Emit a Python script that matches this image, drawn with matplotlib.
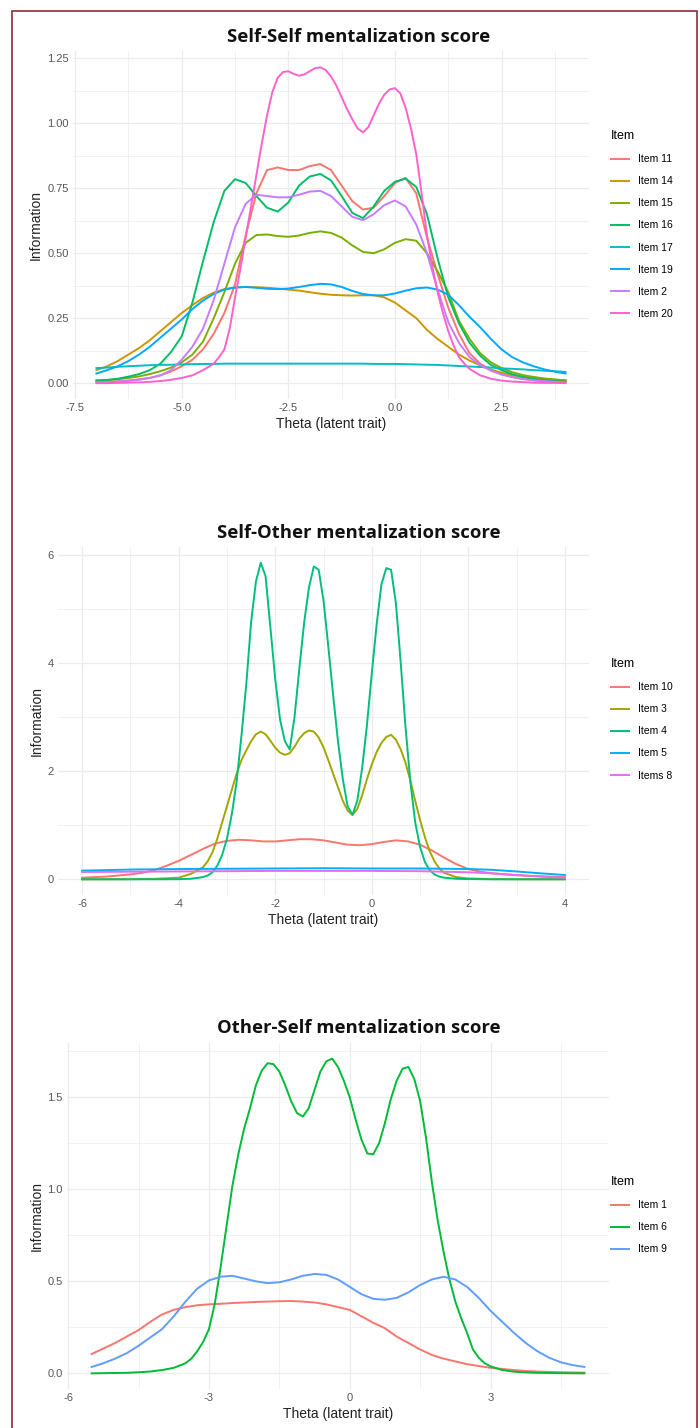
import numpy as np
import matplotlib
matplotlib.use("Agg")
import matplotlib.pyplot as plt
from matplotlib.patches import Rectangle
from matplotlib.ticker import MultipleLocator

# ---- panel 1: Self-Self ----
theta_ss = np.arange(-7, 4.001, 0.25)
# item 20 is read on a finer grid around its peaks
theta_20 = (list(np.arange(-7, -4.49, 0.25)) + list(np.arange(-4.25, 1.751, 0.125))
            + list(np.arange(2, 4.001, 0.25)))
ss_labels = ["Item 11", "Item 14", "Item 15", "Item 16", "Item 17", "Item 19", "Item 2", "Item 20"]
ss_colors = ["#F8766D", "#CD9600", "#7CAE00", "#00BE67", "#00BFC4", "#00A9FF", "#C77CFF", "#FF61CC"]
item11 = [0.003, 0.005, 0.007, 0.01, 0.015, 0.02, 0.03, 0.045, 0.065, 0.09, 0.13, 0.19, 0.27, 0.38, 0.57,
          0.73, 0.82, 0.83, 0.82, 0.82, 0.835, 0.843, 0.82, 0.76, 0.70, 0.668, 0.675, 0.72, 0.77, 0.79,
          0.73, 0.56, 0.42, 0.29, 0.19, 0.115, 0.075, 0.05, 0.035, 0.024, 0.016, 0.011, 0.008, 0.006, 0.005]
item14 = [0.05, 0.065, 0.085, 0.11, 0.135, 0.165, 0.20, 0.235, 0.27, 0.30, 0.328, 0.348, 0.362, 0.368, 0.37,
          0.369, 0.367, 0.364, 0.36, 0.356, 0.35, 0.344, 0.34, 0.338, 0.337, 0.338, 0.338, 0.33, 0.31, 0.28,
          0.25, 0.205, 0.17, 0.14, 0.11, 0.087, 0.068, 0.052, 0.04, 0.031, 0.025, 0.02, 0.016, 0.013, 0.011]
item15 = [0.01, 0.012, 0.015, 0.02, 0.026, 0.035, 0.046, 0.06, 0.08, 0.11, 0.16, 0.25, 0.35, 0.46, 0.54,
          0.57, 0.572, 0.566, 0.563, 0.568, 0.578, 0.584, 0.578, 0.56, 0.53, 0.505, 0.50, 0.515, 0.54, 0.554,
          0.548, 0.50, 0.43, 0.35, 0.24, 0.17, 0.115, 0.08, 0.058, 0.042, 0.031, 0.024, 0.018, 0.014, 0.011]
item16 = [0.01, 0.012, 0.017, 0.025, 0.035, 0.05, 0.075, 0.12, 0.18, 0.31, 0.47, 0.62, 0.74, 0.785, 0.77,
          0.72, 0.675, 0.66, 0.695, 0.76, 0.795, 0.805, 0.78, 0.72, 0.655, 0.635, 0.68, 0.74, 0.775, 0.787,
          0.755, 0.65, 0.48, 0.33, 0.23, 0.155, 0.105, 0.07, 0.05, 0.034, 0.023, 0.016, 0.011, 0.008, 0.005]
item17 = [0.058, 0.06, 0.063, 0.065, 0.067, 0.069, 0.07, 0.071, 0.072, 0.073, 0.074, 0.074, 0.075, 0.075, 0.075,
          0.075, 0.075, 0.075, 0.075, 0.075, 0.075, 0.075, 0.075, 0.075, 0.075, 0.075, 0.074, 0.074, 0.074, 0.073,
          0.072, 0.071, 0.07, 0.068, 0.066, 0.064, 0.062, 0.06, 0.057, 0.055, 0.053, 0.05, 0.048, 0.046, 0.043]
item19 = [0.037, 0.05, 0.065, 0.085, 0.11, 0.14, 0.175, 0.21, 0.245, 0.285, 0.318, 0.343, 0.36, 0.368, 0.37,
          0.367, 0.363, 0.362, 0.364, 0.37, 0.377, 0.382, 0.38, 0.37, 0.355, 0.343, 0.338, 0.338, 0.345, 0.356,
          0.365, 0.368, 0.36, 0.34, 0.30, 0.255, 0.215, 0.17, 0.13, 0.10, 0.08, 0.065, 0.053, 0.044, 0.037]
item2 = [0.003, 0.004, 0.006, 0.009, 0.013, 0.02, 0.03, 0.05, 0.09, 0.14, 0.21, 0.32, 0.46, 0.60, 0.69,
         0.725, 0.72, 0.715, 0.715, 0.725, 0.737, 0.74, 0.72, 0.68, 0.64, 0.627, 0.65, 0.685, 0.703, 0.68,
         0.61, 0.50, 0.36, 0.235, 0.155, 0.10, 0.07, 0.048, 0.033, 0.023, 0.016, 0.011, 0.008, 0.005, 0.003]
item20 = [0.0, 0.0, 0.001, 0.002, 0.003, 0.005, 0.008, 0.013, 0.02, 0.03, 0.05,
          0.075, 0.10, 0.13, 0.21, 0.33, 0.44, 0.56, 0.68, 0.80, 0.92,
          1.03, 1.12, 1.175, 1.197, 1.20, 1.19, 1.183, 1.188, 1.20, 1.212,
          1.215, 1.205, 1.18, 1.145, 1.10, 1.055, 1.015, 0.98, 0.965, 0.985,
          1.03, 1.075, 1.11, 1.13, 1.135, 1.115, 1.06, 0.98, 0.88, 0.73,
          0.57, 0.45, 0.35, 0.27, 0.20, 0.145, 0.10, 0.075, 0.055,
          0.03, 0.017, 0.01, 0.006, 0.004, 0.002, 0.001, 0.001, 0.0]
ss_series = [(theta_ss, item11), (theta_ss, item14), (theta_ss, item15), (theta_ss, item16),
             (theta_ss, item17), (theta_ss, item19), (theta_ss, item2), (theta_20, item20)]

# ---- panel 2: Self-Other ----
theta_fine = [-6, -5.5, -5, -4.5, -4, -3.75] + list(np.round(np.arange(-3.5, 1.501, 0.1), 1)) + [1.75, 2, 2.5, 3, 3.5, 4]
theta_mid = np.arange(-6, 4.001, 0.25)
theta_flat = [-6, -5, -4, -3, -2, -1, 0, 1, 2, 2.5, 3, 3.5, 4]
so_labels = ["Item 10", "Item 3", "Item 4", "Item 5", "Items 8"]
so_colors = ["#F8766D", "#A3A500", "#00BF7D", "#00B0F6", "#E76BF3"]
item10 = [0.03, 0.04, 0.05, 0.07, 0.09, 0.12, 0.17, 0.25, 0.34, 0.45, 0.56, 0.66, 0.71, 0.73, 0.72, 0.70,
          0.70, 0.72, 0.74, 0.74, 0.72, 0.68, 0.64, 0.63, 0.65, 0.69, 0.72, 0.70, 0.64, 0.53, 0.40, 0.28,
          0.19, 0.14, 0.11, 0.09, 0.075, 0.065, 0.055, 0.048, 0.04]
item3 = [0.0, 0.0, 0.002, 0.008, 0.03, 0.1,
         0.22, 0.33, 0.5, 0.75, 1.05, 1.35, 1.65, 1.95, 2.2, 2.38, 2.55, 2.68, 2.73, 2.68, 2.56, 2.43,
         2.34, 2.30, 2.33, 2.45, 2.6, 2.7, 2.75, 2.73, 2.62, 2.44,
         2.2, 1.95, 1.7, 1.45, 1.27, 1.19, 1.3, 1.55, 1.85, 2.12,
         2.35, 2.52, 2.63, 2.67, 2.58, 2.4, 2.15, 1.82, 1.45, 1.1,
         0.78, 0.52, 0.33, 0.2, 0.12,
         0.04, 0.015, 0.004, 0.001, 0.0, 0.0]
item4 = [0.0, 0.0, 0.0, 0.0, 0.002, 0.01,
         0.04, 0.07, 0.13, 0.25, 0.45, 0.75, 1.2, 1.8, 2.65, 3.6, 4.75, 5.5, 5.85, 5.6, 4.65, 3.7,
         2.95, 2.55, 2.4, 3.0, 3.9, 4.75, 5.4, 5.78, 5.72, 5.15,
         4.3, 3.4, 2.55, 1.85, 1.35, 1.19, 1.45, 2.05, 2.85, 3.8,
         4.7, 5.45, 5.75, 5.72, 5.1, 4.0, 2.8, 1.8, 1.05, 0.6,
         0.32, 0.17, 0.09, 0.05, 0.03,
         0.01, 0.004, 0.0, 0.0, 0.0, 0.0]
item5 = [0.16, 0.18, 0.19, 0.195, 0.2, 0.205, 0.2, 0.2, 0.19, 0.175, 0.145, 0.11, 0.08]
item8 = [0.135, 0.14, 0.145, 0.15, 0.155, 0.155, 0.155, 0.15, 0.13, 0.11, 0.08, 0.05, 0.03]
so_series = [(theta_mid, item10), (theta_fine, item3), (theta_fine, item4), (theta_flat, item5), (theta_flat, item8)]

# ---- panel 3: Other-Self ----
theta_os = np.arange(-5.5, 5.001, 0.25)
theta_6 = ([-5.5, -5.25, -5, -4.75, -4.5, -4.25, -4, -3.75, -3.5, -3.375] + list(np.arange(-3.25, 2.751, 0.125))
           + [2.875, 3, 3.25, 3.5, 3.75, 4, 4.5, 5])
os_labels = ["Item 1", "Item 6", "Item 9"]
os_colors = ["#F8766D", "#00BA38", "#619CFF"]
item1 = [0.105, 0.135, 0.165, 0.20, 0.235, 0.28, 0.32, 0.345, 0.36, 0.37, 0.375, 0.378, 0.382, 0.385, 0.388,
         0.39, 0.392, 0.393, 0.39, 0.385, 0.375, 0.36, 0.345, 0.31, 0.275, 0.245, 0.20, 0.165, 0.13, 0.10,
         0.08, 0.065, 0.05, 0.04, 0.03, 0.024, 0.018, 0.013, 0.01, 0.008, 0.006, 0.005, 0.004]
item6 = [0.0, 0.001, 0.002, 0.003, 0.006, 0.01, 0.018, 0.03, 0.055, 0.08,
         0.12, 0.17, 0.24, 0.38, 0.58, 0.80, 1.02, 1.19, 1.33, 1.44,
         1.565, 1.645, 1.685, 1.68, 1.64, 1.565, 1.48, 1.415, 1.395, 1.44,
         1.54, 1.64, 1.695, 1.71, 1.665, 1.59, 1.50, 1.38, 1.27, 1.195,
         1.19, 1.25, 1.36, 1.49, 1.59, 1.655, 1.665, 1.60, 1.48, 1.28,
         1.04, 0.83, 0.66, 0.51, 0.39, 0.30, 0.22, 0.13, 0.085,
         0.055, 0.038, 0.018, 0.009, 0.005, 0.003, 0.001, 0.0]
item9 = [0.035, 0.055, 0.08, 0.11, 0.15, 0.195, 0.24, 0.31, 0.39, 0.46, 0.505, 0.525, 0.53, 0.515, 0.50,
         0.49, 0.495, 0.51, 0.53, 0.54, 0.535, 0.51, 0.47, 0.43, 0.405, 0.40, 0.41, 0.44, 0.48, 0.51,
         0.525, 0.51, 0.47, 0.41, 0.34, 0.28, 0.22, 0.165, 0.12, 0.085, 0.06, 0.045, 0.035]
os_series = [(theta_os, item1), (theta_6, item6), (theta_os, item9)]

plt.rcParams["font.family"] = ["Liberation Sans", "DejaVu Sans"]
plt.rcParams["axes.unicode_minus"] = False
W, H = 700, 1428
fig = plt.figure(figsize=(W / 100, H / 100), dpi=100)
fig.patch.set_facecolor("white")

GRID = "#EBEBEB"
TICK = "#555555"


def px_axes(x0, y0, x1, y1):
    return fig.add_axes([x0 / W, 1 - y1 / H, (x1 - x0) / W, (y1 - y0) / H])


def style(ax, xlim, ylim, xmaj, ymaj, yfmt):
    ax.set_xlim(*xlim)
    ax.set_ylim(*ylim)
    ax.xaxis.set_major_locator(MultipleLocator(xmaj))
    ax.xaxis.set_minor_locator(MultipleLocator(xmaj / 2))
    ax.yaxis.set_major_locator(MultipleLocator(ymaj))
    ax.yaxis.set_minor_locator(MultipleLocator(ymaj / 2))
    ax.yaxis.set_major_formatter(yfmt)
    ax.grid(which="major", color=GRID, lw=0.9)
    ax.grid(which="minor", color=GRID, lw=0.5)
    ax.set_axisbelow(True)
    for s in ax.spines.values():
        s.set_visible(False)
    ax.tick_params(which="both", length=0, labelsize=8, labelcolor=TICK, pad=3)
    ax.set_xlabel("Theta (latent trait)", fontsize=10, color="#222222", labelpad=3)
    ax.set_ylabel("Information", fontsize=10, color="#222222", labelpad=3)


def legend(ax, y_top):
    fig.legend(handles=ax.get_lines(), loc="upper left", bbox_to_anchor=(607 / W, 1 - y_top / H),
               frameon=False, title="Item", fontsize=7.5, title_fontsize=9, alignment="left",
               handlelength=1.75, handletextpad=0.85, labelspacing=1.16, borderaxespad=0)


def title(y, text):
    fig.text(359 / W, 1 - y / H, text, ha="center", va="center", fontsize=13.3,
             fontweight="bold", family=["Open Sans", "DejaVu Sans"], color="#111111")


# panel 1
ax1 = px_axes(73, 51, 589, 399)
for (th, vals), lab, col in zip(ss_series, ss_labels, ss_colors):
    ax1.plot(th, vals, color=col, lw=1.4, label=lab)
style(ax1, (-7.55, 4.55), (-0.061, 1.278), 2.5, 0.25, "{x:.2f}")
legend(ax1, 126)
title(37, "Self-Self mentalization score")

# panel 2
ax2 = px_axes(58, 547, 589, 895)
for (th, vals), lab, col in zip(so_series, so_labels, so_colors):
    ax2.plot(th, vals, color=col, lw=1.4, label=lab)
style(ax2, (-6.5, 4.5), (-0.29, 6.14), 2, 2, "{x:.0f}")
legend(ax2, 654)
title(533, "Self-Other mentalization score")

# panel 3
ax3 = px_axes(67, 1043, 609, 1389)
for (th, vals), lab, col in zip(os_series, os_labels, os_colors):
    ax3.plot(th, vals, color=col, lw=1.4, label=lab)
style(ax3, (-6.025, 5.525), (-0.085, 1.795), 3, 0.5, "{x:.1f}")
legend(ax3, 1172)
title(1028, "Other-Self mentalization score")

# page border
fig.patches.append(Rectangle((12 / W, -0.01), 685 / W, 1 - 11 / H + 0.01, transform=fig.transFigure,
                             fill=False, edgecolor="#8C2D40", lw=1.2))

fig.savefig("out.png", dpi=100)
